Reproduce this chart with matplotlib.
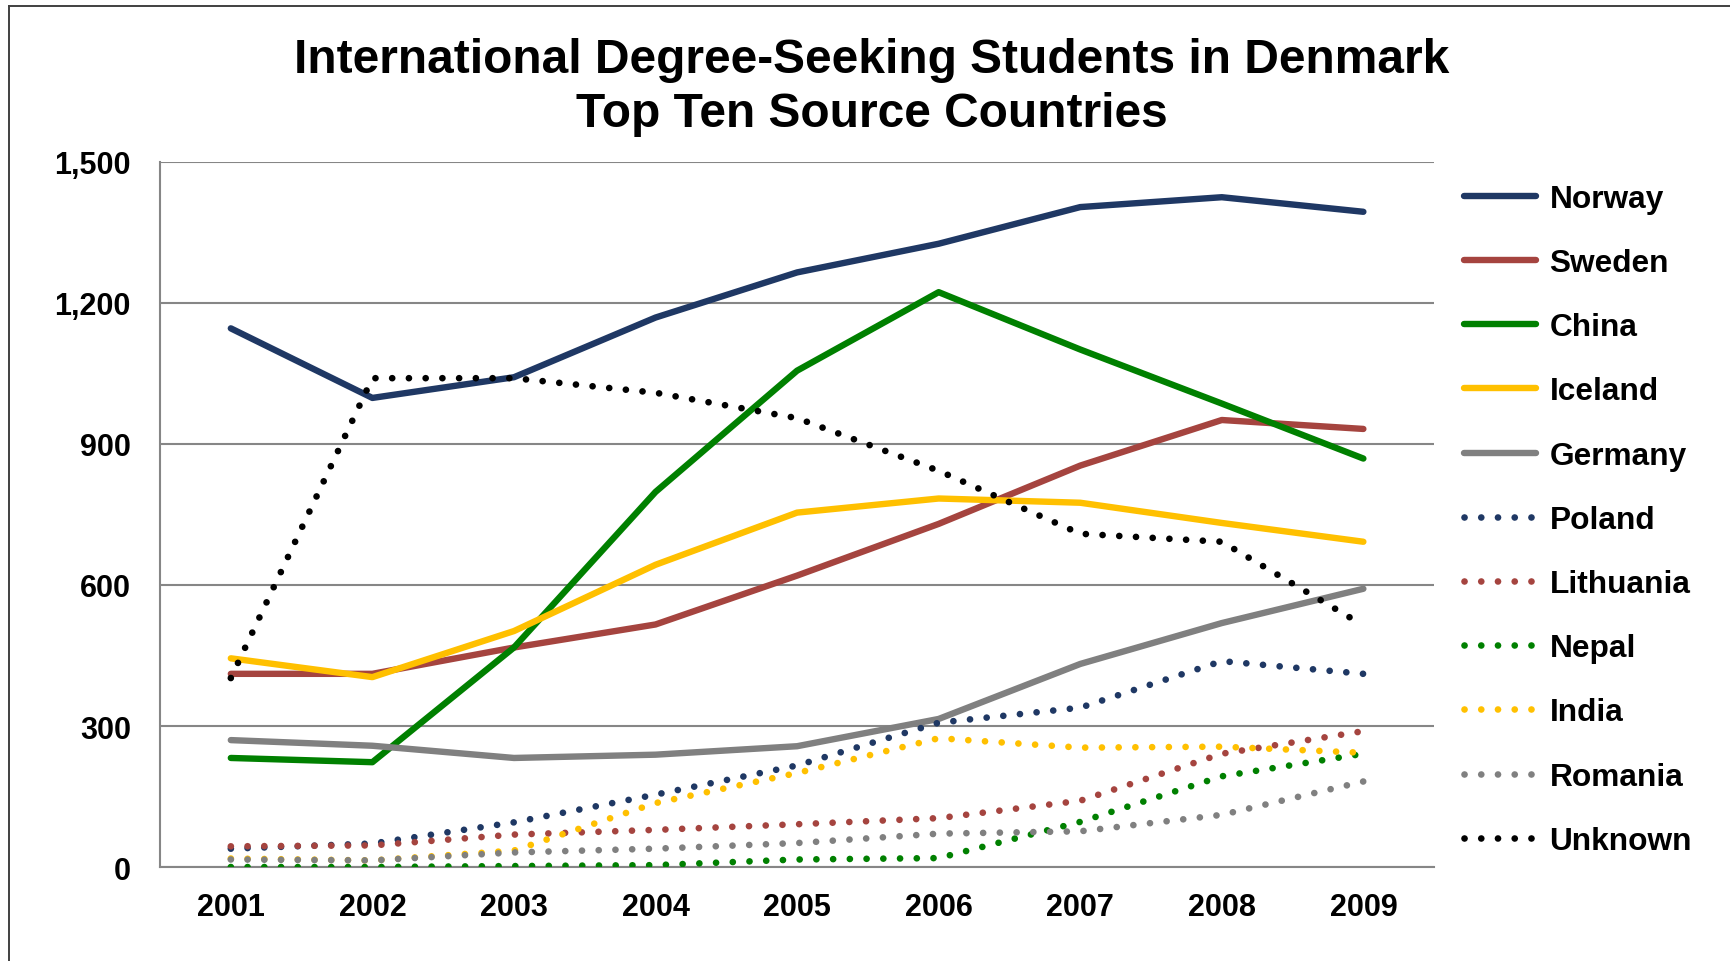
import numpy as np
import matplotlib
matplotlib.use('Agg')
import matplotlib.pyplot as plt
from matplotlib.lines import Line2D

plt.rcParams['font.family'] = ['Liberation Sans', 'DejaVu Sans']
plt.rcParams['font.weight'] = 'bold'

# === Data ===
years = ['2001', '2002', '2003', '2004', '2005', '2006', '2007', '2008', '2009']

norway = [1146, 998, 1042, 1169, 1265, 1326, 1404, 1425, 1394]
sweden = [411, 411, 467, 516, 620, 730, 854, 951, 932]
china = [232, 223, 467, 798, 1056, 1223, 1101, 986, 869]
iceland = [444, 404, 502, 643, 754, 784, 775, 732, 692]
germany = [270, 258, 232, 239, 257, 315, 432, 519, 592]
poland = [39, 50, 95, 154, 216, 307, 339, 438, 411]
lithuania = [44, 46, 69, 79, 91, 104, 141, 241, 289]
nepal = [0, 0, 2, 4, 16, 19, 96, 193, 241]
india = [18, 14, 35, 136, 200, 274, 254, 256, 243]
romania = [16, 14, 31, 39, 51, 71, 76, 111, 182]
unknown = [402, 1040, 1040, 1009, 955, 843, 709, 692, 514]

NAVY = '#1F3864'
RED = '#A5443F'
GREEN = '#008000'
GOLD = '#FFC000'
GRAY = '#808080'

series = [
    ('Norway', norway, NAVY, 'solid'),
    ('Sweden', sweden, RED, 'solid'),
    ('China', china, GREEN, 'solid'),
    ('Iceland', iceland, GOLD, 'solid'),
    ('Germany', germany, GRAY, 'solid'),
    ('Poland', poland, NAVY, 'dot'),
    ('Lithuania', lithuania, RED, 'dot'),
    ('Nepal', nepal, GREEN, 'dot'),
    ('India', india, GOLD, 'dot'),
    ('Romania', romania, GRAY, 'dot'),
    ('Unknown', unknown, 'black', 'dot'),
]

fig = plt.figure(figsize=(17.3, 9.62), dpi=100)
ax = fig.add_axes([0.0925, 0.0977, 0.7365, 0.7329])

x = np.arange(len(years))
dot_style = (0, (0.01, 2.5))

handles = []
for name, vals, color, kind in series:
    if kind == 'solid':
        ln, = ax.plot(x, vals, color=color, lw=4.6, solid_capstyle='round',
                      solid_joinstyle='round', zorder=3)
    else:
        ln, = ax.plot(x, vals, color=color, lw=4.8, linestyle=dot_style,
                      dash_capstyle='round', zorder=3)
    handles.append(ln)

ax.set_xlim(-0.5, len(years) - 0.5)
ax.set_ylim(0, 1500)
ax.set_yticks([0, 300, 600, 900, 1200, 1500])
ax.set_yticklabels(['0', '300', '600', '900', '1,200', '1,500'])
ax.set_xticks(x)
ax.set_xticklabels(years)
ax.tick_params(axis='y', length=0, pad=21, labelsize=22)
ax.tick_params(axis='x', length=0, pad=18, labelsize=22)
for lab in ax.get_xticklabels() + ax.get_yticklabels():
    lab.set_fontweight('bold')

ax.grid(axis='y', color='#868686', lw=1.5, zorder=0)
for side in ['top', 'right']:
    ax.spines[side].set_visible(False)
for side in ['left', 'bottom']:
    ax.spines[side].set_color('#868686')
    ax.spines[side].set_linewidth(1.5)

fig.text(0.504, 0.909, 'International Degree-Seeking Students in Denmark\nTop Ten Source Countries',
         ha='center', va='center', fontsize=34.5, fontweight='bold', linespacing=1.26)

leg = fig.legend(handles, [s[0] for s in series], loc='upper left',
                 bbox_to_anchor=(0.830, 0.8375), frameon=False, fontsize=22.8,
                 handlelength=2.25, handletextpad=0.44, labelspacing=1.08)
for t in leg.get_texts():
    t.set_fontweight('bold')

# outer frame (top and left edges visible in the reference)
fig.add_artist(Line2D([0.0052, 1.0], [0.993, 0.993], transform=fig.transFigure, color='#404040', lw=1.4))
fig.add_artist(Line2D([0.0052, 0.0052], [0.0, 0.993], transform=fig.transFigure, color='#404040', lw=1.4))

fig.savefig('out.png', dpi=100)
